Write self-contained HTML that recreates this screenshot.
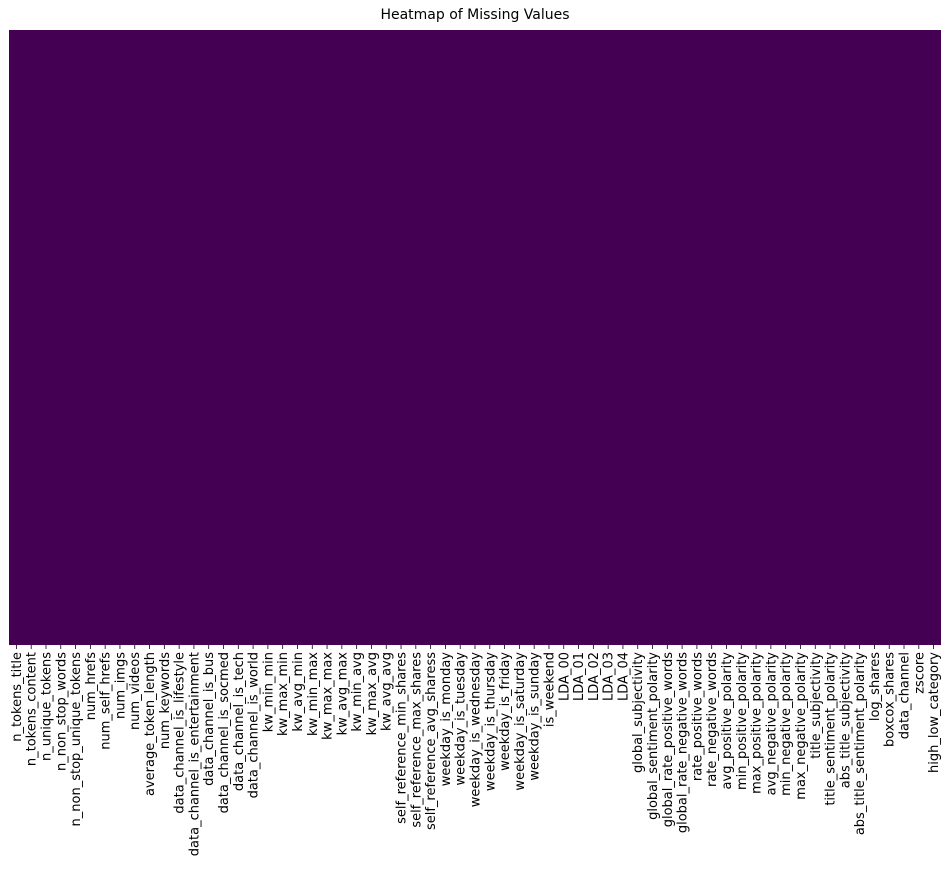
<!DOCTYPE html>
<html><head><meta charset="utf-8"><style>
html,body{margin:0;padding:0;background:#fff;width:950px;height:884px;overflow:hidden}
svg text{font-family:"DejaVu Sans","Liberation Sans",sans-serif;font-size:13px;fill:#000}
</style></head><body>
<svg width="950" height="884" xmlns="http://www.w3.org/2000/svg">
<text x="475" y="19" text-anchor="middle" style="font-size:14px">Heatmap of Missing Values</text>
<rect x="9" y="30" width="932" height="615" fill="#440154"/>
<g id="labels"></g>
</svg>
<script>
var L=["n_tokens_title","n_tokens_content","n_unique_tokens","n_non_stop_words","n_non_stop_unique_tokens","num_hrefs","num_self_hrefs","num_imgs","num_videos","average_token_length","num_keywords","data_channel_is_lifestyle","data_channel_is_entertainment","data_channel_is_bus","data_channel_is_socmed","data_channel_is_tech","data_channel_is_world","kw_min_min","kw_max_min","kw_avg_min","kw_min_max","kw_max_max","kw_avg_max","kw_min_avg","kw_max_avg","kw_avg_avg","self_reference_min_shares","self_reference_max_shares","self_reference_avg_sharess","weekday_is_monday","weekday_is_tuesday","weekday_is_wednesday","weekday_is_thursday","weekday_is_friday","weekday_is_saturday","weekday_is_sunday","is_weekend","LDA_00","LDA_01","LDA_02","LDA_03","LDA_04","global_subjectivity","global_sentiment_polarity","global_rate_positive_words","global_rate_negative_words","rate_positive_words","rate_negative_words","avg_positive_polarity","min_positive_polarity","max_positive_polarity","avg_negative_polarity","min_negative_polarity","max_negative_polarity","title_subjectivity","title_sentiment_polarity","abs_title_subjectivity","abs_title_sentiment_polarity","log_shares","boxcox_shares","data_channel","zscore","high_low_category"];
var g=document.getElementById("labels"),ns="http://www.w3.org/2000/svg",w=932/L.length;
L.forEach(function(s,i){var x=9+w*(i+0.5);
var l=document.createElementNS(ns,"line");l.setAttribute("x1",x);l.setAttribute("x2",x);l.setAttribute("y1",645);l.setAttribute("y2",649);l.setAttribute("stroke","#000");l.setAttribute("stroke-width","0.8");g.appendChild(l);
var t=document.createElementNS(ns,"text");t.setAttribute("transform","translate("+(x+4.5)+",652) rotate(-90)");t.setAttribute("text-anchor","end");t.textContent=s;g.appendChild(t);});
</script>
</body></html>
